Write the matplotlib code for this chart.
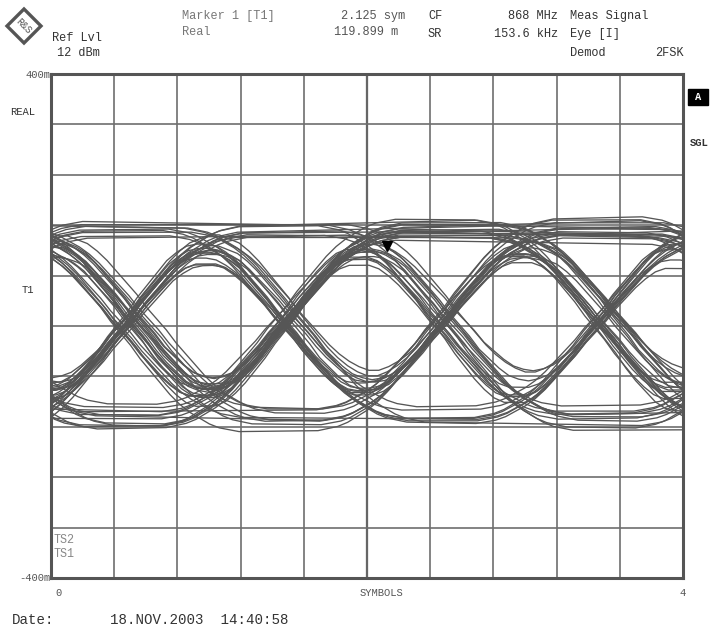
import numpy as np
import matplotlib
matplotlib.use("Agg")
import matplotlib.pyplot as plt
from matplotlib.patches import Polygon, Rectangle
from matplotlib.transforms import offset_copy

# Demodulated 2FSK bit stream (consecutive 4-symbol windows are overlaid)
bits = ("0110100111010001101101001011100100111010110001011010011100101101"
        "0011101001011001110100101101000111010010110110001011011100101001"
        "1101100011010010110100111001011010011101011001001101101001110100"
        "1001101011100010110010111010010011011100101001101100101101011001"
        "01101001110")

# normalised transition shape, sampled every 1/16 symbol from -0.75 to +0.75
step_shape = [0.00, 0.01, 0.02, 0.04, 0.07, 0.10, 0.14, 0.19, 0.25, 0.31, 0.37, 0.44,
              0.50, 0.56, 0.63, 0.69, 0.75, 0.81, 0.86, 0.90, 0.93, 0.96, 0.98, 0.99, 1.00]

rail = 148.0          # m, level of a long run of equal symbols
x0 = -0.05            # symbol centre position inside the window

# per-window variations
dc_offset = [3, -5, 8, -2, 0, 6, -9, 4, -1, 10, -6, 2, -3, 7, -8, 1, 5, -4, 9, -7, 0, 3,
             -10, 6, -2, 4, -6, 8, -1, 2, -5, 11, -3, 0, 7, -8, 4, -2, 6, -4, 1, -7, 5, 9,
             -12, 2, 7, -3, 13, -6, 0, 4, -9, 1, 8, -2, -5, 10, -1, 3, -7, 6, -11, 2, 5, -4]
gain = [1.02, 0.96, 1.05, 0.99, 1.08, 0.94, 1.01, 1.06, 0.97, 1.03, 0.95, 1.09, 1.00, 0.93,
        1.04, 0.98, 1.07, 0.96, 1.02, 1.05, 0.99, 0.94,
        1.06, 1.01, 0.97, 1.08, 1.00, 0.95, 1.03, 1.06, 0.98, 0.93, 1.04, 1.02, 0.96, 1.07,
        0.99, 1.05, 0.94, 1.01, 1.09, 0.97, 1.03, 1.00,
        1.11, 0.92, 1.04, 0.98, 1.06, 0.95, 1.02, 1.10, 0.97, 1.00, 0.93, 1.05, 1.08, 0.96,
        1.01, 0.99, 1.07, 0.94, 1.03, 1.12, 0.98, 1.02]
t_shift = [0.01, -0.02, 0.03, 0.00, -0.01, 0.02, -0.03, 0.01, 0.04, -0.02, 0.00, 0.02,
           -0.01, 0.03, -0.02, 0.01, 0.00, -0.03, 0.02, 0.01, -0.01, 0.04,
           -0.02, 0.00, 0.03, -0.01, 0.02, -0.02, 0.01, 0.00, 0.03, -0.03, 0.01, 0.02,
           -0.01, 0.00, 0.04, -0.02, 0.01, -0.01, 0.02, 0.00, -0.02, 0.03,
           0.00, 0.02, -0.01, 0.03, -0.02, 0.01, 0.04, -0.03, 0.00, 0.02, -0.01, 0.01,
           0.03, -0.02, 0.00, 0.02, -0.01, 0.04, 0.01, -0.02, 0.00, 0.03]
tilt = [2, -4, 5, -1, 3, -6, 0, 4, -3, 6, -2, 1, -5, 3, 0, -4, 6, -1, 2, -3, 5, -2,
        1, -6, 4, 0, -3, 2, 5, -4, 1, -2, 3, -5, 0, 4, -1, 6, -3, 2, -4, 1, 3, -2,
        -7, 3, 0, 5, -2, 8, -4, 1, -6, 2, 4, -3, 7, -1, 0, -5, 3, 6, -2, -4, 1, 5]
# extra delay of falling transitions, in 1/16 symbol
fall_lag = [0, 2, 1, 3, 0, 1, 2, 0, 3, 1, 0, 2, 1, 0, 3, 2, 0, 1, 2, 3, 0, 1,
            2, 0, 1, 3, 1, 0, 2, 1, 0, 3, 2, 1, 0, 2, 1, 3, 0, 1, 2, 0, 1, 3,
            1, 0, 3, 2, 0, 1, 2, 1, 3, 0, 2, 1, 0, 3, 1, 2, 0, 2, 1, 0, 3, 1]

marker_x = 2.125
marker_y = 119.899

n_win = min(len(dc_offset), (len(bits) - 3) // 4)
table = np.array(step_shape)
n = np.arange(-10, 75)           # sample index, 16 per symbol
t = n / 16.0

fig = plt.figure(figsize=(7.1, 6.3), dpi=100)
ax = fig.add_axes([51 / 710, 1 - 578 / 630, 632 / 710, 504 / 630])

for w in range(n_win):
    b = np.array([1.0 if c == "1" else -1.0 for c in bits[4 * w:4 * w + 7]])
    level = np.full(n.shape, b[0])
    for k in range(-1, 5):
        d = b[k + 2] - b[k + 1]
        lag = fall_lag[w] if d < 0 else 0
        m = n - 16 * k - 8 - lag
        s = np.where(m < -12, 0.0, np.where(m > 12, 1.0, table[np.clip(m + 12, 0, 24)]))
        level = level + d * s
    y = dc_offset[w] + tilt[w] * (t - 2) + gain[w] * rail * level
    ax.plot(t + x0 + t_shift[w], y, color="#565656", lw=0.95, zorder=3)

ax.plot(marker_x, marker_y, marker="v", color="black", ms=7, zorder=5,
        transform=offset_copy(ax.transData, fig=fig, y=4, units="dots"))

ax.set_xlim(0, 4)
ax.set_ylim(-400, 400)
ax.set_xticks(np.linspace(0, 4, 11))
ax.set_yticks(np.linspace(-400, 400, 11))
ax.grid(True, color="#6e6e6e", lw=1.2, zorder=1)
ax.axvline(2, color="#444444", lw=1.6, zorder=1)
ax.tick_params(length=0, labelbottom=False, labelleft=False)
for sp in ax.spines.values():
    sp.set_color("#555555")
    sp.set_linewidth(2.2)

mono = "Liberation Mono"


def px(x, y, s, ha="left", size=8.6, color="#333333", **kw):
    fig.text(x / 710, 1 - y / 630, s, ha=ha, va="center", family=mono,
             size=size, color=color, **kw)


# header
px(52, 38, "Ref Lvl")
px(57, 53, "12 dBm")
px(182, 16, "Marker 1 [T1]", color="#777777")
px(182, 32, "Real", color="#777777")
px(405, 16, "2.125 sym", ha="right", color="#555555")
px(398, 32, "119.899 m", ha="right", color="#555555")
px(428, 16, "CF")
px(428, 34, "SR")
px(558, 16, "868 MHz", ha="right")
px(558, 34, "153.6 kHz", ha="right")
px(570, 16, "Meas Signal")
px(570, 34, "Eye [I]")
px(570, 53, "Demod")
px(684, 53, "2FSK", ha="right")

# left side labels
px(51, 75, "400m", ha="right", size=7.6, color="#555555")
px(10, 112, "REAL", size=7.6)
px(22, 290, "T1", size=7.6)
px(51, 578, "-400m", ha="right", size=7.6, color="#555555")
px(54, 540, "TS2", color="#888888", size=8.4)
px(54, 554, "TS1", color="#888888", size=8.4)

# right side labels
fig.patches.append(Rectangle((688 / 710, 1 - 105 / 630), 20 / 710, 16 / 630,
                             transform=fig.transFigure, color="black"))
px(698, 97, "A", ha="center", color="white", size=7.5, weight="bold")
px(690, 143, "SGL", size=7.6, weight="bold")

# bottom
px(55, 593, "0", size=7.6, color="#555555")
px(381, 593, "SYMBOLS", ha="center", size=7.6, color="#555555")
px(679, 593, "4", size=7.6, color="#555555")
px(12, 620, "Date:", size=10.2)
px(110, 620, "18.NOV.2003  14:40:58", size=10.2)

# R&S logo
cx, cy, r = 24 / 710, 1 - 26 / 630, 17
logo = Polygon([(cx - r / 710, cy), (cx, cy + r / 630), (cx + r / 710, cy), (cx, cy - r / 630)],
               closed=True, fill=False, ec="#555555", lw=2.4, transform=fig.transFigure)
fig.patches.append(logo)
px(24, 26, "R&S", ha="center", size=7, color="#555555", rotation=-45)

fig.savefig("out.png", dpi=100)
